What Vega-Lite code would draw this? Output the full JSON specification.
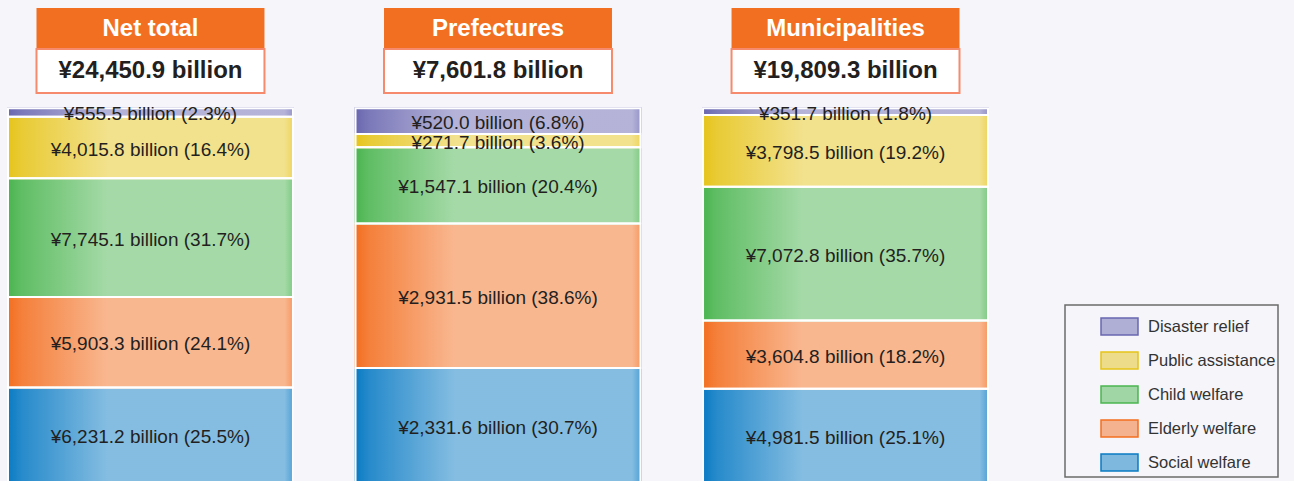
{
  "$schema": "https://vega.github.io/schema/vega-lite/v6.json",
  "background": "#f5f5fa",
  "padding": {"left": 0, "top": 8, "right": 300, "bottom": 10},
  "spacing": 0,
  "config": {"view": {"stroke": null}, "legend": {"strokeWidth": 1.5}},
  "datasets": {
    "heads": [
      {"region": "Net total", "title": "Net total", "total": "¥24,450.9 billion"},
      {"region": "Prefectures", "title": "Prefectures", "total": "¥7,601.8 billion"},
      {"region": "Municipalities", "title": "Municipalities", "total": "¥19,809.3 billion"}
    ],
    "parts": [
      {"region": "Net total", "category": "Social welfare", "value": 6231.2, "label": "¥6,231.2 billion (25.5%)"},
      {"region": "Net total", "category": "Elderly welfare", "value": 5903.3, "label": "¥5,903.3 billion (24.1%)"},
      {"region": "Net total", "category": "Child welfare", "value": 7745.1, "label": "¥7,745.1 billion (31.7%)"},
      {"region": "Net total", "category": "Public assistance", "value": 4015.8, "label": "¥4,015.8 billion (16.4%)"},
      {"region": "Net total", "category": "Disaster relief", "value": 555.5, "label": "¥555.5 billion (2.3%)"},
      {"region": "Prefectures", "category": "Social welfare", "value": 2331.6, "label": "¥2,331.6 billion (30.7%)"},
      {"region": "Prefectures", "category": "Elderly welfare", "value": 2931.5, "label": "¥2,931.5 billion (38.6%)"},
      {"region": "Prefectures", "category": "Child welfare", "value": 1547.1, "label": "¥1,547.1 billion (20.4%)"},
      {"region": "Prefectures", "category": "Public assistance", "value": 271.7, "label": "¥271.7 billion (3.6%)"},
      {"region": "Prefectures", "category": "Disaster relief", "value": 520.0, "label": "¥520.0 billion (6.8%)"},
      {"region": "Municipalities", "category": "Social welfare", "value": 4981.5, "label": "¥4,981.5 billion (25.1%)"},
      {"region": "Municipalities", "category": "Elderly welfare", "value": 3604.8, "label": "¥3,604.8 billion (18.2%)"},
      {"region": "Municipalities", "category": "Child welfare", "value": 7072.8, "label": "¥7,072.8 billion (35.7%)"},
      {"region": "Municipalities", "category": "Public assistance", "value": 3798.5, "label": "¥3,798.5 billion (19.2%)"},
      {"region": "Municipalities", "category": "Disaster relief", "value": 351.7, "label": "¥351.7 billion (1.8%)"}
    ]
  },
  "vconcat": [
    {
      "width": 996,
      "height": 40,
      "data": {"name": "heads"},
      "layer": [
        {
          "mark": {"type": "bar", "color": "#f26f21", "width": {"band": 0.8}},
          "encoding": {
            "x": {"field": "region", "type": "nominal", "sort": ["Net total", "Prefectures", "Municipalities"], "axis": null, "scale": {"paddingInner": 0.18, "paddingOuter": 0.023}}
          }
        },
        {
          "mark": {"type": "text", "color": "#ffffff", "font": "Liberation Sans", "fontWeight": "bold", "fontSize": 24, "baseline": "middle", "dy": 1},
          "encoding": {
            "x": {"field": "region", "type": "nominal", "sort": ["Net total", "Prefectures", "Municipalities"], "axis": null, "scale": {"paddingInner": 0.18, "paddingOuter": 0.023}},
            "text": {"field": "title"}
          }
        }
      ]
    },
    {
      "width": 996,
      "height": 44,
      "data": {"name": "heads"},
      "layer": [
        {
          "mark": {"type": "bar", "color": "#ffffff", "stroke": "#f58b6c", "strokeWidth": 2, "width": {"band": 0.8}},
          "encoding": {
            "x": {"field": "region", "type": "nominal", "sort": ["Net total", "Prefectures", "Municipalities"], "axis": null, "scale": {"paddingInner": 0.18, "paddingOuter": 0.023}}
          }
        },
        {
          "mark": {"type": "text", "color": "#231f20", "font": "Liberation Sans", "fontWeight": "bold", "fontSize": 24, "baseline": "middle", "dy": 0},
          "encoding": {
            "x": {"field": "region", "type": "nominal", "sort": ["Net total", "Prefectures", "Municipalities"], "axis": null, "scale": {"paddingInner": 0.18, "paddingOuter": 0.023}},
            "text": {"field": "total"}
          }
        }
      ]
    },
    {
      "width": 996,
      "height": 389,
      "data": {"name": "parts"},
      "transform": [
        {"stack": "value", "groupby": ["region"], "offset": "normalize", "as": ["y0", "y1"]}
      ],
      "layer": [
        {
          "mark": {"type": "bar", "strokeWidth": 2},
          "encoding": {
            "x": {"field": "region", "type": "nominal", "sort": ["Net total", "Prefectures", "Municipalities"], "axis": null, "scale": {"paddingInner": 0.18, "paddingOuter": 0.023}},
            "y": {"field": "y0", "type": "quantitative", "axis": null, "scale": {"domain": [0, 1.038], "nice": false, "zero": true}},
            "y2": {"field": "y1"},
            "fill": {
              "field": "category",
              "type": "nominal",
              "scale": {
                "domain": ["Disaster relief", "Public assistance", "Child welfare", "Elderly welfare", "Social welfare"],
                "range": ["#6a67b0", "#e6c41a", "#4bb550", "#f36f21", "#0a7bc4"]
              },
              "legend": {
                "orient": "none",
                "legendX": 1065,
                "legendY": 297,
                "title": null,
                "padding": 2,
                "symbolOffset": 33,
                "labelOffset": 9,
                "rowPadding": 2,
                "symbolType": "M-1,-0.46H1V0.46H-1Z",
                "symbolSize": 1369,
                "symbolStrokeWidth": 1.5,
                "labelFont": "Liberation Sans",
                "labelFontSize": 16.5,
                "labelColor": "#333333",
                "labelLimit": 400,
                "strokeColor": "#6b6b6b",
                "fillColor": "#f5f5fa",
                "encode": {"symbols": {"update": {"fillOpacity": {"value": 0.5}}}}
              }
            },
            "stroke": {
              "field": "category",
              "type": "nominal",
              "scale": {
                "domain": ["Disaster relief", "Public assistance", "Child welfare", "Elderly welfare", "Social welfare"],
                "range": ["#6a67b0", "#e6c41a", "#4bb550", "#f36f21", "#0a7bc4"]
              }
            }
          }
        },
        {
          "mark": {
            "type": "bar",
            "stroke": "#ffffff",
            "strokeWidth": 2,
            "fill": {
              "gradient": "linear",
              "x1": 0, "y1": 0, "x2": 1, "y2": 0,
              "stops": [
                {"offset": 0, "color": "rgba(255,255,255,0)"},
                {"offset": 0.05, "color": "rgba(255,255,255,0.12)"},
                {"offset": 0.35, "color": "rgba(255,255,255,0.5)"},
                {"offset": 0.97, "color": "rgba(255,255,255,0.5)"},
                {"offset": 1, "color": "rgba(255,255,255,0.3)"}
              ]
            }
          },
          "encoding": {
            "x": {"field": "region", "type": "nominal", "sort": ["Net total", "Prefectures", "Municipalities"], "axis": null, "scale": {"paddingInner": 0.18, "paddingOuter": 0.023}},
            "y": {"field": "y0", "type": "quantitative", "axis": null, "scale": {"domain": [0, 1.038], "nice": false, "zero": true}},
            "y2": {"field": "y1"}
          }
        },
        {
          "transform": [{"fold": ["y0", "y1"], "as": ["edge", "pos"]}],
          "mark": {"type": "text", "font": "Liberation Sans", "fontSize": 19, "color": "#231f20", "baseline": "middle", "dy": 2},
          "encoding": {
            "x": {"field": "region", "type": "nominal", "sort": ["Net total", "Prefectures", "Municipalities"], "axis": null, "scale": {"paddingInner": 0.18, "paddingOuter": 0.023}},
            "y": {"field": "pos", "type": "quantitative", "aggregate": "mean", "stack": null, "axis": null, "scale": {"domain": [0, 1.038], "nice": false, "zero": true}},
            "text": {"field": "label"},
            "detail": {"field": "category"}
          }
        }
      ]
    }
  ]
}
